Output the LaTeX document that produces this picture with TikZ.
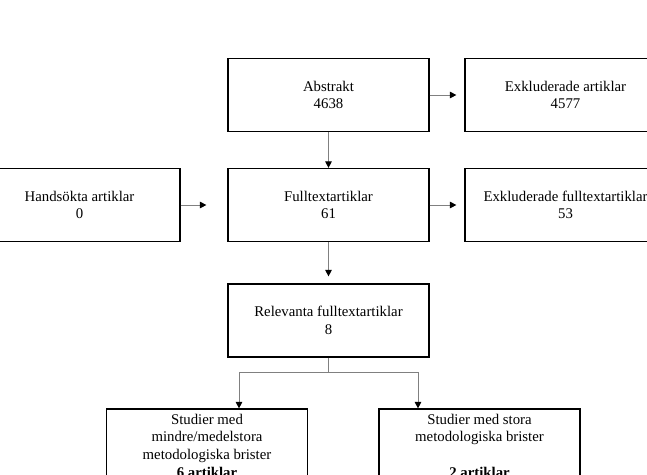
\documentclass[tikz,border=0pt]{standalone}
\usepackage{fontspec}
\setmainfont{Liberation Serif}
\usetikzlibrary{arrows.meta}
\begin{document}
\begin{tikzpicture}[x=1pt,y=-1pt,
  box/.style={draw=black, line width=1.2pt, minimum width=201pt, minimum height=73pt,
    inner sep=0pt, align=center, font=\fontsize{14.8pt}{17.7pt}\selectfont},
  conn/.style={draw={rgb,255:red,128;green,128;blue,128}, line width=0.9pt},
  arr/.style={conn, -{Triangle[length=6.5pt,width=6.5pt,color=black]}}]
\useasboundingbox (0,0) rectangle (647,474);
\clip (0,0) rectangle (647,474);
\node[box] (abs)   at (328.5,95)  {Abstrakt\\4638};
\node[box] (exkl)  at (565.5,95)  {Exkluderade artiklar\\4577};
\node[box] (hand)  at (79.5,205)  {Handsökta artiklar\\0};
\node[box] (full)  at (328.5,205) {Fulltextartiklar\\61};
\node[box] (exft)  at (565.5,205) {Exkluderade fulltextartiklar\\53};
\node[box] (rel)   at (328.5,320.5) {Relevanta fulltextartiklar\\8};
\node[box] (lb)    at (207,445.5) {Studier med\\mindre/medelstora\\metodologiska brister\\\textbf{6 artiklar}};
\node[box] (rb)    at (479.5,445.5) {Studier med stora\\metodologiska brister\\\mbox{}\\\textbf{2 artiklar}};
\coordinate (split) at (328.5,372);
\draw[arr] (abs.south) -- (full.north);
\draw[arr, shorten >=8pt] (abs.east) -- (exkl.west);
\draw[arr, shorten >=21pt] (hand.east) -- (full.west);
\draw[arr, shorten >=8pt] (full.east) -- (exft.west);
\draw[arr, shorten >=7pt] (full.south) -- (rel.north);
\draw[conn] (rel.south) -- (split);
\draw[arr] (split) -| ([xshift=32pt]lb.north);
\draw[arr] (split) -| ([xshift=-61.5pt]rb.north);
\end{tikzpicture}
\end{document}
